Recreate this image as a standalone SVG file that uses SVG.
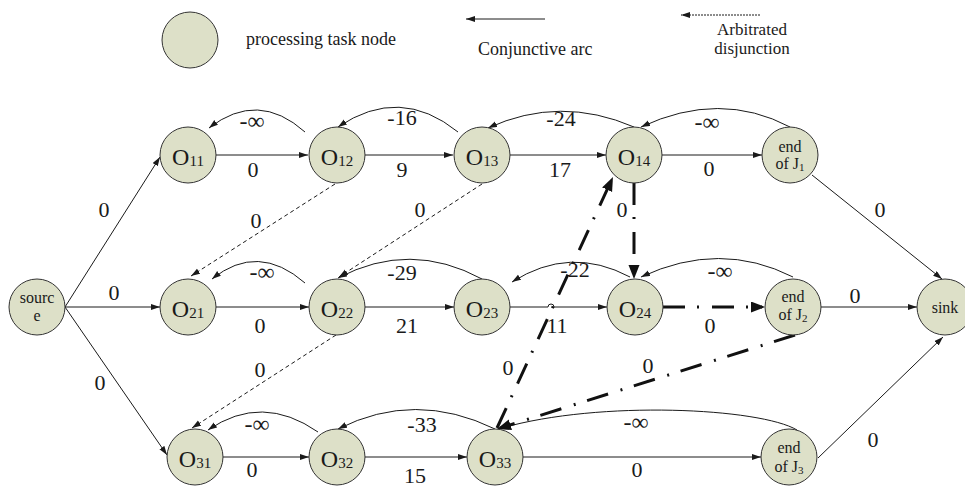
<svg xmlns="http://www.w3.org/2000/svg" width="965" height="487" viewBox="0 0 965 487">
  <defs>
    <marker id="arrow" markerUnits="userSpaceOnUse" markerWidth="10" markerHeight="7" refX="9" refY="3" orient="auto">
      <path d="M0,0 L9,3 L0,6 z" fill="#1a1a1a"/>
    </marker>
    <marker id="arrow-big" markerUnits="userSpaceOnUse" markerWidth="15" markerHeight="12" refX="11" refY="5.5" orient="auto">
      <path d="M0,0 L14,5.5 L0,11 z" fill="#111"/>
    </marker>
  </defs>
  <style>
    .node { fill: #dde0c8; stroke: #333; stroke-width: 1; }
    .lbl { font-family: "Liberation Serif", "Times New Roman", serif; fill: #1a1a1a; text-anchor: middle; }
    .nlbl { font-size: 24px; }
    .sub { font-size: 15px; }
    .small { font-size: 16px; }
    .tiny { font-size: 11px; }
    .elbl { font-size: 22px; }
    .inf { font-size: 24px; }
    .legend { font-family: "Liberation Serif", "Times New Roman", serif; font-size: 18px; fill: #1a1a1a; }
    .legend-sm { font-family: "Liberation Serif", "Times New Roman", serif; font-size: 17px; fill: #1a1a1a; text-anchor: middle; }
    .conj { fill: none; stroke: #1a1a1a; stroke-width: 1; marker-end: url(#arrow); }
    .disj { fill: none; stroke: #1a1a1a; stroke-width: 1; stroke-dasharray: 4 3; marker-end: url(#arrow); }
    .arb { fill: none; stroke: #111; stroke-width: 3; stroke-dasharray: 22 12 2 13; marker-end: url(#arrow-big); }
  </style>

  <!-- legend -->
  <g id="legend">
    <circle class="node" cx="190" cy="40" r="28"/>
    <text class="legend" x="246" y="45">processing task node</text>
    <path class="conj" d="M545,19 L466,19"/>
    <text class="legend" x="478" y="55">Conjunctive arc</text>
    <path d="M760,15 L681,15" fill="none" stroke="#1a1a1a" stroke-width="1" stroke-dasharray="2 1" marker-end="url(#arrow)"/>
    <text class="legend-sm" x="752" y="35">Arbitrated</text>
    <text class="legend-sm" x="752" y="54">disjunction</text>
  </g>

  <!-- connectors -->
  <g id="edges">
    <!-- conjunctive arcs, forward -->
    <path class="conj" d="M216,155 L308,155"/>
    <path class="conj" d="M365,155 L453,155"/>
    <path class="conj" d="M510,155 L606,155"/>
    <path class="conj" d="M662,155 L762,155"/>
    <path class="conj" d="M65,307 L160,307"/>
    <path class="conj" d="M216,307 L309,307"/>
    <path class="conj" d="M365,307 L454,307"/>
    <path class="conj" d="M510,307 L548,307 A3,3 0 0 1 554,307 L607,307"/>
    <path class="conj" d="M821,307 L917,307"/>
    <path class="conj" d="M223,457 L309,457"/>
    <path class="conj" d="M365,457 L467,457"/>
    <path class="conj" d="M523,457 L761,457"/>
    <path class="conj" d="M65,307 L160,157"/>
    <path class="conj" d="M65,307 L167,455"/>
    <path class="conj" d="M812,175 L942,279"/>
    <path class="conj" d="M818,458 L943,337"/>
    <!-- conjunctive arcs, backward -->
    <path class="conj" d="M305,132 Q258,90 209,128"/>
    <path class="conj" d="M458,132 Q400,85 338,127"/>
    <path class="conj" d="M634,127 Q560,95 488,128"/>
    <path class="conj" d="M790,127 Q720,90 641,127"/>
    <path class="conj" d="M305,283 Q258,242 212,279"/>
    <path class="conj" d="M482,279 Q410,240 338,278"/>
    <path class="conj" d="M630,277 Q570,245 512,282"/>
    <path class="conj" d="M793,277 Q720,240 641,277"/>
    <path class="conj" d="M318,432 Q262,393 208,430"/>
    <path class="conj" d="M495,429 Q415,390 338,429"/>
    <path class="conj" d="M797,430 C760,408 600,400 502,428"/>
    <!-- disjunctive arcs -->
    <path class="disj" d="M335,184 L191,276"/>
    <path class="disj" d="M482,184 L339,277"/>
    <path class="disj" d="M336,335 L192,428"/>
    <!-- arbitrated disjunctions -->
    <path class="arb" d="M497,428 L611.7,179.7"/>
    <path class="arb" d="M634,183 L634,276"/>
    <path class="arb" d="M663,307 L762,307"/>
    <path class="arb" d="M795,335 L499.9,428.1"/>
  </g>

  <!-- edge weights -->
  <g id="weights" class="lbl elbl">
    <text x="104" y="217">0</text>
    <text x="253" y="177">0</text>
    <text x="402" y="177">9</text>
    <text x="402" y="125">-16</text>
    <text x="560" y="177">17</text>
    <text x="561" y="126">-24</text>
    <text x="709" y="176">0</text>
    <text x="880" y="217">0</text>
    <text x="256" y="228">0</text>
    <text x="420" y="217">0</text>
    <text x="622" y="217">0</text>
    <text x="114" y="300">0</text>
    <text x="260" y="333">0</text>
    <text x="407" y="333">21</text>
    <text x="402" y="280">-29</text>
    <text x="557" y="333">11</text>
    <text x="575" y="277">-22</text>
    <text x="710" y="333">0</text>
    <text x="855" y="303">0</text>
    <text x="260" y="377">0</text>
    <text x="508" y="375">0</text>
    <text x="648" y="373">0</text>
    <text x="100" y="390">0</text>
    <text x="252" y="477">0</text>
    <text x="415" y="483">15</text>
    <text x="422" y="432">-33</text>
    <text x="637" y="477">0</text>
    <text x="873" y="447">0</text>
  </g>
  <g id="infinite-weights" class="lbl inf">
    <text x="252" y="129">-∞</text>
    <text x="707" y="130">-∞</text>
    <text x="262" y="280">-∞</text>
    <text x="720" y="279">-∞</text>
    <text x="257" y="432">-∞</text>
    <text x="636" y="430">-∞</text>
  </g>

  <!-- nodes -->
  <g id="source">
    <circle class="node" cx="37" cy="307" r="28"/>
    <text class="lbl small" x="37" y="303">sourc</text>
    <text class="lbl small" x="37" y="321">e</text>
  </g>
  <g id="O11">
    <circle class="node" cx="188" cy="155" r="28"/>
    <text class="lbl nlbl" x="188" y="165">O<tspan class="sub" dy="1">11</tspan></text>
  </g>
  <g id="O12">
    <circle class="node" cx="337" cy="155" r="28"/>
    <text class="lbl nlbl" x="337" y="165">O<tspan class="sub" dy="1">12</tspan></text>
  </g>
  <g id="O13">
    <circle class="node" cx="482" cy="155" r="28"/>
    <text class="lbl nlbl" x="482" y="165">O<tspan class="sub" dy="1">13</tspan></text>
  </g>
  <g id="O14">
    <circle class="node" cx="634" cy="155" r="28"/>
    <text class="lbl nlbl" x="634" y="165">O<tspan class="sub" dy="1">14</tspan></text>
  </g>
  <g id="end-J1">
    <circle class="node" cx="790" cy="155" r="28"/>
    <text class="lbl small" x="790" y="152">end</text>
    <text class="lbl small" x="790" y="169">of J<tspan class="tiny" dy="2">1</tspan></text>
  </g>
  <g id="O21">
    <circle class="node" cx="188" cy="307" r="28"/>
    <text class="lbl nlbl" x="188" y="317">O<tspan class="sub" dy="1">21</tspan></text>
  </g>
  <g id="O22">
    <circle class="node" cx="337" cy="307" r="28"/>
    <text class="lbl nlbl" x="337" y="317">O<tspan class="sub" dy="1">22</tspan></text>
  </g>
  <g id="O23">
    <circle class="node" cx="482" cy="307" r="28"/>
    <text class="lbl nlbl" x="482" y="317">O<tspan class="sub" dy="1">23</tspan></text>
  </g>
  <g id="O24">
    <circle class="node" cx="635" cy="307" r="28"/>
    <text class="lbl nlbl" x="635" y="317">O<tspan class="sub" dy="1">24</tspan></text>
  </g>
  <g id="end-J2">
    <circle class="node" cx="793" cy="307" r="28"/>
    <text class="lbl small" x="793" y="302">end</text>
    <text class="lbl small" x="793" y="320">of J<tspan class="tiny" dy="2">2</tspan></text>
  </g>
  <g id="sink">
    <circle class="node" cx="945" cy="307" r="28"/>
    <text class="lbl small" x="945" y="313">sink</text>
  </g>
  <g id="O31">
    <circle class="node" cx="195" cy="457" r="28"/>
    <text class="lbl nlbl" x="195" y="467">O<tspan class="sub" dy="1">31</tspan></text>
  </g>
  <g id="O32">
    <circle class="node" cx="337" cy="457" r="28"/>
    <text class="lbl nlbl" x="337" y="467">O<tspan class="sub" dy="1">32</tspan></text>
  </g>
  <g id="O33">
    <circle class="node" cx="495" cy="457" r="28"/>
    <text class="lbl nlbl" x="495" y="467">O<tspan class="sub" dy="1">33</tspan></text>
  </g>
  <g id="end-J3">
    <circle class="node" cx="789" cy="457" r="28"/>
    <text class="lbl small" x="789" y="453">end</text>
    <text class="lbl small" x="789" y="472">of J<tspan class="tiny" dy="2">3</tspan></text>
  </g>
</svg>
